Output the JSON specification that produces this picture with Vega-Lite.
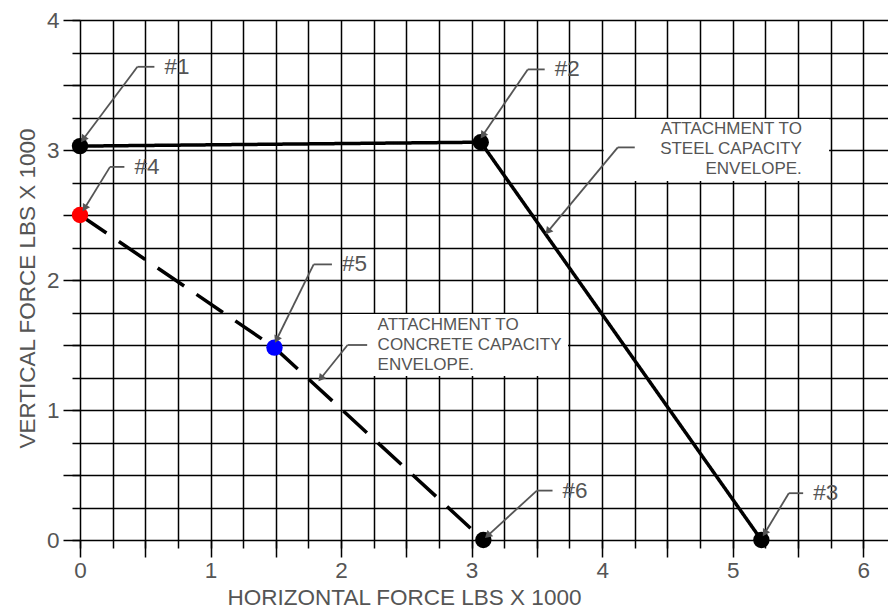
{
  "$schema": "https://vega.github.io/schema/vega-lite/v6.json",
  "width": 808,
  "height": 520,
  "autosize": {"type": "none"},
  "padding": {"left": 80, "top": 20, "right": 0, "bottom": 68},
  "background": "white",
  "config": {"view": {"stroke": null}, "font": "Liberation Sans"},
  "datasets": {
    "pts": [
      {"id": "#1", "env": "steel", "ord": 1, "x": 0, "y": 3.03, "pc": "black"},
      {"id": "#2", "env": "steel", "ord": 2, "x": 3.07, "y": 3.06, "pc": "black"},
      {"id": "#3", "env": "steel", "ord": 3, "x": 5.22, "y": 0, "pc": "black"},
      {"id": "#4", "env": "concrete", "ord": 1, "x": 0, "y": 2.5, "pc": "red"},
      {"id": "#5", "env": "concrete", "ord": 2, "x": 1.49, "y": 1.48, "pc": "blue"},
      {"id": "#6", "env": "concrete", "ord": 3, "x": 3.09, "y": 0, "pc": "black"}
    ],
    "leaders": [
      {"id": "#1", "tx": 0.03, "ty": 3.09, "bx": 0.44, "by": 3.64, "ex": 0.57, "ey": 3.64},
      {"id": "#4", "tx": 0.04, "ty": 2.56, "bx": 0.23, "by": 2.87, "ex": 0.34, "ey": 2.87},
      {"id": "#2", "tx": 3.09, "ty": 3.12, "bx": 3.43, "by": 3.62, "ex": 3.56, "ey": 3.62},
      {"id": "#5", "tx": 1.51, "ty": 1.55, "bx": 1.79, "by": 2.12, "ex": 1.93, "ey": 2.12},
      {"id": "#6", "tx": 3.13, "ty": 0.04, "bx": 3.5, "by": 0.38, "ex": 3.62, "ey": 0.38},
      {"id": "#3", "tx": 5.25, "ty": 0.06, "bx": 5.43, "by": 0.36, "ex": 5.54, "ey": 0.36},
      {"id": "", "tx": 3.59, "ty": 2.38, "bx": 4.12, "by": 3.02, "ex": 4.25, "ey": 3.02},
      {"id": "", "tx": 1.85, "ty": 1.25, "bx": 2.05, "by": 1.5, "ex": 2.2, "ey": 1.5}
    ],
    "notes": [
      {"env": "steel", "x1": 4.0, "x2": 5.75, "y1": 3.25, "y2": 2.75, "tx": 5.53, "ty": 3.165, "txt": "ATTACHMENT TO\nSTEEL CAPACITY\nENVELOPE."},
      {"env": "concrete", "x1": 2.0, "x2": 3.75, "y1": 1.75, "y2": 1.25, "tx": 2.28, "ty": 1.655, "txt": "ATTACHMENT TO\nCONCRETE CAPACITY\nENVELOPE."}
    ]
  },
  "layer": [
    {
      "data": {"name": "notes"},
      "mark": {"type": "rect", "fill": "white", "xOffset": 1.5, "x2Offset": -1.5, "yOffset": 1.5, "y2Offset": -1.5},
      "encoding": {
        "x": {
          "field": "x1", "type": "quantitative",
          "scale": {"domain": [0, 6.19], "nice": false, "zero": false},
          "axis": {
            "orient": "bottom",
            "values": [0, 0.25, 0.5, 0.75, 1, 1.25, 1.5, 1.75, 2, 2.25, 2.5, 2.75, 3, 3.25, 3.5, 3.75, 4, 4.25, 4.5, 4.75, 5, 5.25, 5.5, 5.75, 6],
            "grid": true, "gridColor": "#000000", "gridWidth": 1.5, "gridOpacity": 1,
            "ticks": true, "tickSize": 8, "tickColor": "#000000", "tickWidth": 1.5,
            "labels": false, "domain": false, "title": null
          }
        },
        "x2": {"field": "x2"},
        "y": {
          "field": "y1", "type": "quantitative",
          "scale": {"domain": [0, 4], "nice": false, "zero": false},
          "axis": {
            "orient": "left",
            "values": [0, 0.25, 0.5, 0.75, 1, 1.25, 1.5, 1.75, 2, 2.25, 2.5, 2.75, 3, 3.25, 3.5, 3.75, 4],
            "grid": true, "gridColor": "#000000", "gridWidth": 1.5, "gridOpacity": 1,
            "ticks": true, "tickSize": 8, "tickColor": "#000000", "tickWidth": 1.5,
            "labels": false, "domain": false, "title": null
          }
        },
        "y2": {"field": "y2"}
      }
    },
    {
      "data": {"name": "pts"},
      "mark": {"type": "line", "color": "black", "strokeWidth": 3.5},
      "encoding": {
        "x": {
          "field": "x", "type": "quantitative",
          "axis": {
            "orient": "bottom",
            "values": [0, 0.5, 1, 1.5, 2, 2.5, 3, 3.5, 4, 4.5, 5, 5.5, 6],
            "grid": false, "domain": false,
            "ticks": true, "tickSize": 17, "tickColor": "#000000", "tickWidth": 1.5,
            "labelExpr": "datum.value % 1 === 0 ? format(datum.value, 'd') : ''",
            "labelFontSize": 22.5, "labelColor": "#555555", "labelPadding": 2,
            "labelFlush": false, "labelOverlap": false, "labelFont": "Liberation Sans",
            "title": "HORIZONTAL FORCE LBS X 1000",
            "titleFont": "Liberation Sans", "titleFontSize": 22.5, "titleFontWeight": "normal", "titleColor": "#555555",
            "titleX": 324, "titleY": 57, "titleBaseline": "middle", "titleAlign": "center"
          }
        },
        "y": {
          "field": "y", "type": "quantitative",
          "axis": {
            "orient": "left",
            "values": [0, 0.5, 1, 1.5, 2, 2.5, 3, 3.5, 4],
            "grid": false, "domain": false,
            "ticks": true, "tickSize": 17, "tickColor": "#000000", "tickWidth": 1.5,
            "labelExpr": "datum.value % 1 === 0 ? format(datum.value, 'd') : ''",
            "labelFontSize": 22.5, "labelColor": "#555555", "labelPadding": 4,
            "labelFlush": false, "labelOverlap": false, "labelFont": "Liberation Sans",
            "title": "VERTICAL FORCE LBS X 1000",
            "titleFont": "Liberation Sans", "titleFontSize": 22.5, "titleFontWeight": "normal", "titleColor": "#555555",
            "titleX": -53, "titleY": 268, "titleBaseline": "middle", "titleAlign": "center", "titleAngle": -90
          }
        },
        "order": {"field": "ord", "type": "quantitative"},
        "strokeDash": {
          "field": "env", "type": "nominal",
          "scale": {"domain": ["steel", "concrete"], "range": [[1, 0], [32, 15]]},
          "legend": null
        }
      }
    },
    {
      "data": {"name": "pts"},
      "mark": {"type": "circle", "size": 270, "opacity": 1},
      "encoding": {
        "x": {"field": "x", "type": "quantitative", "axis": null},
        "y": {"field": "y", "type": "quantitative", "axis": null},
        "color": {
          "field": "pc", "type": "nominal",
          "scale": {"domain": ["black", "red", "blue"], "range": ["#000000", "#ff0000", "#0000ff"]},
          "legend": null
        }
      }
    },
    {
      "data": {"name": "leaders"},
      "mark": {"type": "rule", "color": "#555555", "strokeWidth": 1.8},
      "encoding": {
        "x": {"field": "tx", "type": "quantitative", "axis": null},
        "y": {"field": "ty", "type": "quantitative", "axis": null},
        "x2": {"field": "bx"},
        "y2": {"field": "by"}
      }
    },
    {
      "data": {"name": "leaders"},
      "mark": {"type": "rule", "color": "#555555", "strokeWidth": 1.8},
      "encoding": {
        "x": {"field": "bx", "type": "quantitative", "axis": null},
        "y": {"field": "by", "type": "quantitative", "axis": null},
        "x2": {"field": "ex"},
        "y2": {"field": "ey"}
      }
    },
    {
      "data": {"name": "leaders"},
      "transform": [
        {"calculate": "atan2(datum.tx - datum.bx, datum.ty - datum.by) * 180 / PI", "as": "ang"}
      ],
      "mark": {"type": "point", "shape": "triangle", "filled": true, "size": 70, "color": "#555555", "opacity": 1, "strokeWidth": 0},
      "encoding": {
        "x": {"field": "tx", "type": "quantitative", "axis": null},
        "y": {"field": "ty", "type": "quantitative", "axis": null},
        "angle": {"field": "ang", "type": "quantitative", "scale": null}
      }
    },
    {
      "data": {"name": "leaders"},
      "mark": {"type": "text", "align": "left", "baseline": "middle", "dx": 10, "fontSize": 22.5, "color": "#555555", "font": "Liberation Sans"},
      "encoding": {
        "x": {"field": "ex", "type": "quantitative", "axis": null},
        "y": {"field": "ey", "type": "quantitative", "axis": null},
        "text": {"field": "id"}
      }
    },
    {
      "data": {"name": "notes"},
      "transform": [{"filter": "datum.env === 'steel'"}],
      "mark": {"type": "text", "align": "right", "baseline": "middle", "lineBreak": "\n", "lineHeight": 20, "fontSize": 17, "color": "#555555", "font": "Liberation Sans"},
      "encoding": {
        "x": {"field": "tx", "type": "quantitative", "axis": null},
        "y": {"field": "ty", "type": "quantitative", "axis": null},
        "text": {"field": "txt"}
      }
    },
    {
      "data": {"name": "notes"},
      "transform": [{"filter": "datum.env === 'concrete'"}],
      "mark": {"type": "text", "align": "left", "baseline": "middle", "lineBreak": "\n", "lineHeight": 20, "fontSize": 17, "color": "#555555", "font": "Liberation Sans"},
      "encoding": {
        "x": {"field": "tx", "type": "quantitative", "axis": null},
        "y": {"field": "ty", "type": "quantitative", "axis": null},
        "text": {"field": "txt"}
      }
    }
  ],
  "resolve": {"axis": {"x": "independent", "y": "independent"}}
}
